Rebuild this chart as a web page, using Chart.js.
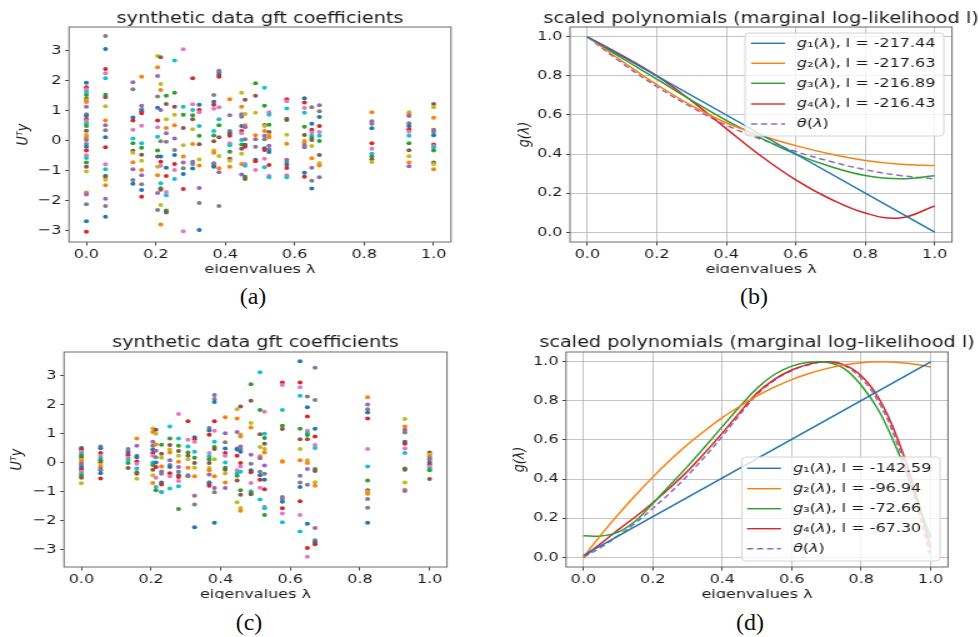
<!DOCTYPE html>
<html>
<head>
<meta charset="utf-8">
<script src="https://cdn.jsdelivr.net/npm/chart.js@4.4.0/dist/chart.umd.min.js"></script>
<style>
body { margin: 0; background: #fff; width: 979px; height: 637px; position: relative; overflow: hidden; }
.panel { position: absolute; overflow: hidden; }
.panel canvas { display: block; transform: scaleX(1.25); transform-origin: 0 0; }
.cap { position: absolute; font-family: "Liberation Serif", serif; font-size: 24px; line-height: 24px; color: #111; transform: translateX(-50%); }
</style>
</head>
<body>
<div class="panel" style="left:0px;top:0px;width:470px;height:273px"><canvas id="chartA" width="376" height="282"></canvas></div>
<div class="panel" style="left:490px;top:0px;width:489px;height:273px"><canvas id="chartB" width="391" height="282"></canvas></div>
<div class="panel" style="left:0px;top:320px;width:470px;height:279px"><canvas id="chartC" width="376" height="284"></canvas></div>
<div class="panel" style="left:490px;top:320px;width:489px;height:278px"><canvas id="chartD" width="391" height="284"></canvas></div>
<div class="cap" style="left:253px;top:284px">(a)</div>
<div class="cap" style="left:754px;top:284px">(b)</div>
<div class="cap" style="left:249px;top:610px">(c)</div>
<div class="cap" style="left:750px;top:610px">(d)</div>
<script>
// eigenvalues (x positions of the gft columns)
const eig = [0.0, 0.055, 0.134, 0.159, 0.205, 0.214, 0.23, 0.254, 0.279, 0.306, 0.325, 0.367, 0.382,
             0.413, 0.447, 0.457, 0.487, 0.513, 0.526, 0.577, 0.628, 0.649, 0.671, 0.822, 0.929, 1.0];

// gft coefficients, panel (a), one list per eigenvalue
const gftA = [
  [1.94,1.79,1.72,1.63,1.53,1.41,1.36,1.3,1.14,0.89,0.83,0.72,0.67,0.59,0.5,0.34,0.21,0.12,0.03,-0.1,-0.19,-0.32,-0.48,-0.57,-0.72,-0.86,-1.02,-1.72,-1.79,-2.11,-2.68,-3.03],
  [3.5,3.07,2.4,2.26,2.09,1.54,1.46,1.16,0.68,0.52,0.36,0.12,-0.21,-0.78,-0.94,-1.16,-1.2,-1.29,-1.48,-1.93,-2.17,-2.53],
  [1.96,1.72,0.78,0.68,0.37,0.08,-0.08,-0.33,-0.39,-0.71,-0.94,-1.3,-1.43],
  [2.14,1.17,1.06,0.99,0.92,0.51,-0.08,-0.23,-0.46,-0.66,-0.97,-1.14,-1.44,-1.64,-1.86],
  [2.83,2.46,2.17,1.48,1.11,0.68,0.46,0.14,-0.32,-0.52,-0.86,-1.14,-1.74,-2.3],
  [2.79,1.9,1.7,1.03,-0.01,-0.52,-0.69,-0.83,-1.41,-1.58,-1.63,-2.14,-2.79],
  [1.51,1.23,0.72,0.43,0.26,-0.03,-0.89,-1.17,-1.7,-1.81,-2.32,-2.39],
  [2.68,1.61,1.14,0.87,0.52,0.08,-0.3,-0.47,-0.77,-0.97,-1.27],
  [3.06,1.14,0.87,0.43,-0.14,-0.52,-0.72,-0.91,-1.1,-1.6,-3.01],
  [2.09,1.22,1.03,0.86,0.72,0.39,-0.1,-0.69,-0.77,-0.92],
  [1.21,1.03,0.96,0.5,0.17,-0.11,-0.62,-0.82,-1.57,-2.07,-2.97],
  [1.53,1.31,1.21,1.07,0.33,0.18,-0.01,-0.32,-0.39,-0.74,-0.81,-0.86],
  [2.34,2.28,2.21,2.14,1.12,0.72,0.52,0.12,-0.5,-0.91,-1.04,-2.17],
  [1.39,0.86,0.33,0.26,0.17,-0.08,-0.14,-0.36,-0.59,-0.66,-0.86],
  [1.61,1.14,0.89,0.81,0.5,0.33,0.26,0.03,-0.12,-0.26,-0.43,-0.77,-1.12],
  [1.37,0.9,0.52,0.46,0.06,-0.13,-0.19,-0.77,-0.83,-1.19,-1.27],
  [1.92,1.51,0.94,0.19,0.06,-0.19,-0.63,-0.68,-0.97],
  [1.77,1.17,0.53,0.5,0.33,0.17,0.06,-0.24,-0.3,-0.59,-0.88],
  [0.96,0.87,0.54,0.3,0.2,0.12,-0.16,-0.28,-0.37,-0.8,-1.17,-1.21],
  [1.39,1.32,1.08,0.74,0.7,0.21,-0.09,-0.63,-0.7,-0.79,-0.9,-1.14,-1.21],
  [1.42,1.28,1.1,0.94,0.47,0.2,0.01,-0.06,-0.14,-0.21,-1.06,-1.19],
  [1.12,0.57,0.37,0.28,0.17,0.1,0.03,-0.17,-0.58,-0.89,-1.33,-1.59],
  [1.19,0.99,0.8,0.5,0.3,0.17,0,-0.47,-0.74,-0.82,-1.21],
  [0.96,0.66,0.57,0.42,-0.08,-0.26,-0.43,-0.52,-0.61,-0.7],
  [0.96,0.88,0.83,0.59,0.5,0.39,0.31,0.17,-0.08,-0.31,-0.51,-0.72,-0.84],
  [1.23,1.12,0.77,0.37,0.3,0.19,-0.12,-0.17,-0.21,-0.32,-0.72,-0.77,-0.94]
];

// gft coefficients, panel (c)
const gftC = [
  [0.5,0.44,0.37,0.3,0.23,0.16,0.09,0.02,-0.05,-0.11,-0.18,-0.25,-0.32,-0.39,-0.46,-0.53,-0.72],
  [0.55,0.49,0.32,0.23,0.15,0.07,0,-0.08,-0.16,-0.22,-0.27,-0.37,-0.55],
  [0.46,0.39,0.32,0.25,0.16,0.09,-0.02,-0.19],
  [0.82,0.57,0.23,0.18,0.03,-0.05,-0.21,-0.34,-0.39,-0.56],
  [1.17,1.05,0.71,0.57,0.44,0.32,0.23,0,-0.09,-0.25,-0.44,-0.71],
  [1.12,0.99,0.62,0.4,0.18,0,-0.16,-0.53,-0.85,-0.96],
  [0.61,0.3,0.16,-0.14,-0.31,-0.39,-0.69,-0.76,-1.01,-1.03],
  [1.24,0.82,0.6,0.44,0.34,0.07,-0.09,-0.16,-0.37,-0.48,-0.9],
  [1.67,0.82,0.57,0.39,0.23,0.02,-0.16,-0.32,-0.44,-0.5,-0.64,-0.82,-1.6],
  [1.42,0.78,0.55,0.34,0.23,0.11,-0.18,-0.44,-0.48],
  [0.87,0.8,0.71,0.37,0.16,-0.02,-0.18,-0.48,-1.15,-1.45,-2.23],
  [1.18,1.1,0.95,0.32,0.21,0.11,-0.02,-0.19,-0.27,-0.42,-0.68,-0.73,-0.8],
  [2.32,2.18,2.08,1.42,1.09,0.71,0.53,0.46,0.11,-0.48,-0.88,-1.03,-2.08],
  [1.55,1.0,0.69,0.48,0.32,0.23,0,-0.18,-0.25,-0.38,-0.69,-0.88],
  [1.83,1.51,1.05,0.48,0.44,0.23,-0.27,-0.37,-0.46,-0.62,-1.37],
  [1.92,0.96,0.89,0.55,0.46,0.37,-0.02,-0.14,-0.32,-0.96,-1.11,-1.57,-1.66],
  [2.69,2.12,1.36,1.2,0.26,-0.05,-0.27,-0.34,-0.71,-0.99,-1.05,-1.1],
  [3.1,1.8,0.97,0.53,0.21,0.14,-0.32,-0.44,-0.6,-0.87,-1.28],
  [1.74,0.99,0.84,0.64,0.46,0.34,-0.11,-0.39,-0.6,-0.92,-1.53,-1.58,-1.81],
  [2.75,2.66,1.8,1.26,1.15,0.05,0.02,-1.19,-1.26,-1.35,-1.58,-1.76,-2.06],
  [3.48,2.75,2.59,2.29,1.16,0.8,0.46,0.07,-0.46,-0.69,-0.85,-1.34,-1.81,-2.38],
  [2.27,1.9,1.58,1.09,1.01,0.94,0.8,0.07,-0.02,-0.23,-0.77,-2.11,-2.95,-3.25],
  [3.26,2.15,1.16,0.89,0.6,0.5,-0.23,-0.3,-0.68,-0.8,-2.26,-2.68,-2.75,-2.82],
  [2.24,1.99,1.83,1.72,1.51,0.46,-0.14,-0.62,-0.96,-1.01,-1.08,-1.26,-1.56,-2.08],
  [1.49,1.24,1.12,1.03,0.71,0.64,0.48,0.32,-0.21,-0.25,-0.69,-0.94,-0.98],
  [0.34,0.27,0.21,0.14,0.09,0,-0.07,-0.14,-0.21,-0.27,-0.57]
];

// polynomials, panel (b)
const lamB = [0, 0.1, 0.2, 0.3, 0.4, 0.5, 0.6, 0.7, 0.8, 0.9, 1.0];
const g1Bx = [0, 1], g1By = [1.0, 0.0];
const g2B = [1.0, 0.875, 0.755, 0.648, 0.56, 0.495, 0.443, 0.40, 0.367, 0.348, 0.341];
const g3B = [1.0, 0.89, 0.783, 0.675, 0.572, 0.482, 0.40, 0.336, 0.29, 0.273, 0.289];
const g4B = [1.0, 0.905, 0.80, 0.672, 0.53, 0.39, 0.268, 0.17, 0.098, 0.073, 0.134];
const thB = [1.0, 0.865, 0.745, 0.64, 0.548, 0.476, 0.413, 0.362, 0.32, 0.29, 0.273];
const llB = ['-217.44', '-217.63', '-216.89', '-216.43'];

// polynomials, panel (d)
const lamD = [0, 0.05, 0.1, 0.15, 0.2, 0.25, 0.3, 0.35, 0.4, 0.45, 0.5, 0.55, 0.6, 0.65, 0.7, 0.75, 0.8, 0.85, 0.9, 0.95, 1.0];
const g1Dx = [0, 1], g1Dy = [0.01, 1.0];
const g2D = [0.0, 0.113, 0.218, 0.317, 0.41, 0.497, 0.577, 0.648, 0.714, 0.772, 0.825, 0.87, 0.909, 0.94, 0.965, 0.984, 0.995, 1.0, 0.998, 0.989, 0.973];
const g3D = [0.11, 0.108, 0.128, 0.185, 0.275, 0.37, 0.465, 0.565, 0.668, 0.77, 0.865, 0.935, 0.978, 0.997, 0.998, 0.966, 0.88, 0.752, 0.565, 0.34, 0.10];
const g4D = [0.0, 0.07, 0.14, 0.207, 0.279, 0.357, 0.44, 0.535, 0.635, 0.74, 0.84, 0.91, 0.958, 0.988, 1.0, 0.985, 0.928, 0.815, 0.628, 0.37, 0.046];
const thD = [0.0, 0.05, 0.11, 0.175, 0.25, 0.33, 0.418, 0.515, 0.618, 0.728, 0.832, 0.905, 0.955, 0.985, 1.0, 0.982, 0.915, 0.795, 0.6, 0.33, 0.0];
const llD = ['-142.59', '-96.94', '-72.66', '-67.30'];

const xTicks = [0, 0.2, 0.4, 0.6, 0.8, 1.0];
const yTicksGft = [-3, -2, -1, 0, 1, 2, 3];
const yTicksPoly = [0, 0.2, 0.4, 0.6, 0.8, 1.0];

const tab10 = ['#1f77b4','#ff7f0e','#2ca02c','#d62728','#9467bd','#8c564b','#e377c2','#7f7f7f','#bcbd22','#17becf'];
const ink = '#1a1a1a';
const tickFont = { family: 'DejaVu Sans', size: 12.8 };
const minus = s => s.replace('-', '\u2212');

function pts(xs, ys) { return xs.map((x, i) => ({ x: x, y: ys[i] })); }

function richText(ctx, x, y, parts) {
  parts.forEach(p => {
    ctx.font = (p[1] ? 'italic ' : '') + '12.8px "DejaVu Sans"';
    ctx.fillText(p[0], x, y);
    x += ctx.measureText(p[0]).width;
  });
}

// spines, title and optional legend
function framePlugin(title, titleY, legend) {
  return {
    id: 'frame',
    afterDatasetsDraw(chart) {
      if (!legend) return;
      const ctx = chart.ctx;
      ctx.save();
      ctx.beginPath();
      ctx.roundRect(legend.x, legend.y, legend.w, legend.h, 3);
      ctx.fillStyle = 'rgba(255,255,255,0.8)';
      ctx.fill();
      ctx.strokeStyle = '#d4d4d4';
      ctx.lineWidth = 1;
      ctx.stroke();
      ctx.textBaseline = 'middle';
      ctx.fillStyle = ink;
      legend.rows.forEach((r, i) => {
        const y = legend.rowY[i];
        ctx.strokeStyle = r.color;
        ctx.lineWidth = 1.4;
        ctx.setLineDash(r.dash || []);
        ctx.beginPath();
        ctx.moveTo(legend.hx0, y);
        ctx.lineTo(legend.hx1, y);
        ctx.stroke();
        ctx.setLineDash([]);
        richText(ctx, legend.tx, y, r.parts);
      });
      ctx.restore();
    },
    afterDraw(chart) {
      const ctx = chart.ctx, a = chart.chartArea;
      ctx.save();
      ctx.strokeStyle = '#6a6a6a';
      ctx.lineWidth = 1;
      ctx.strokeRect(a.left, a.top, a.right - a.left, a.bottom - a.top);
      ctx.font = '15.4px "DejaVu Sans"';
      ctx.fillStyle = ink;
      ctx.textAlign = 'center';
      ctx.textBaseline = 'alphabetic';
      ctx.fillText(title, (a.left + a.right) / 2, titleY);
      ctx.restore();
    }
  };
}

function scales(o) {
  return {
    x: {
      type: 'linear', min: -0.05, max: 1.05,
      afterBuildTicks: s => { s.ticks = xTicks.map(v => ({ value: v })); },
      afterFit: s => { s.height = o.xh; },
      ticks: { callback: v => v.toFixed(1), color: ink, font: tickFont, padding: 1, maxRotation: 0, autoSkip: false },
      grid: { display: true, drawOnChartArea: o.grid, color: 'rgba(176,176,176,0.75)', lineWidth: 1, tickColor: '#444', tickLength: 3.5 },
      border: { display: false },
      title: { display: true, text: 'eigenvalues λ', color: ink, font: tickFont, padding: { top: 0, bottom: o.xtp } }
    },
    y: {
      type: 'linear', min: o.ymin, max: o.ymax,
      afterBuildTicks: s => { s.ticks = o.yticks.map(v => ({ value: v })); },
      afterFit: s => { s.width = o.yw; },
      ticks: { callback: o.yfmt, color: ink, font: tickFont, padding: 3, autoSkip: false },
      grid: { display: true, drawOnChartArea: o.grid, color: 'rgba(176,176,176,0.75)', lineWidth: 1, tickColor: '#444', tickLength: 3 },
      border: { display: false },
      title: { display: true, text: o.ylabel, color: ink, font: { family: 'DejaVu Sans', size: 12.8, style: 'italic' }, padding: { top: o.ytp, bottom: 0 } }
    }
  };
}

function gftChart(id, cols, o) {
  const data = [], colors = [];
  cols.forEach((col, i) => {
    col.forEach((v, j) => {
      data.push({ x: eig[i], y: v });
      colors.push(tab10[(j * 3 + i * 7) % 10]);
    });
  });
  new Chart(document.getElementById(id), {
    type: 'scatter',
    data: { datasets: [{ data: data, pointBackgroundColor: colors, pointBorderWidth: 0, pointRadius: 2 }] },
    options: {
      responsive: false, animation: false, events: [],
      layout: { padding: { top: o.pt, right: o.pr, left: 0, bottom: 0 } },
      plugins: { legend: { display: false }, tooltip: { enabled: false } },
      scales: scales(Object.assign({ grid: false, ymin: o.ymin, ymax: o.ymax, yticks: yTicksGft,
        yfmt: v => minus(String(v)), ylabel: 'U\u1D40y' }, o))
    },
    plugins: [framePlugin('synthetic data gft coefficients', o.titleY)]
  });
}

function polyChart(id, series, labels, o) {
  const cols = ['#1f77b4', '#ff7f0e', '#2ca02c', '#d62728', '#9467bd'];
  const ds = series.map((s, i) => ({
    data: s, borderColor: cols[i], borderWidth: 1.5, pointRadius: 0, fill: false,
    tension: 0.4, borderDash: i === 4 ? [5, 3] : []
  }));
  const rows = labels.map((l, i) => ({
    color: cols[i], parts: [['g', 1], ['\u2081\u2082\u2083\u2084'[i] + '(', 0], ['λ', 1], ['), l = ' + l, 0]]
  }));
  rows.push({ color: cols[4], dash: [5, 3], parts: [['θ', 1], ['(', 0], ['λ', 1], [')', 0]] });
  o.legend.rows = rows;
  new Chart(document.getElementById(id), {
    type: 'line',
    data: { datasets: ds },
    options: {
      responsive: false, animation: false, events: [],
      layout: { padding: { top: o.pt, right: o.pr, left: 0, bottom: 0 } },
      plugins: { legend: { display: false }, tooltip: { enabled: false } },
      scales: scales(Object.assign({ grid: true, ymin: -0.05, ymax: 1.05, yticks: yTicksPoly,
        yfmt: v => v.toFixed(1), ylabel: 'g(λ)' }, o))
    },
    plugins: [framePlugin('scaled polynomials (marginal log-likelihood l)', o.titleY, o.legend)]
  });
}

gftChart('chartA', gftA, { pt: 27, pr: 15.2, yw: 55.2, xh: 40, xtp: 5, ytp: 11, ymin: -3.37, ymax: 3.8, titleY: 23 });
gftChart('chartC', gftC, { pt: 32, pr: 18.4, yw: 51.2, xh: 37, xtp: 1.6, ytp: 6.3, ymin: -3.6, ymax: 3.8, titleY: 27 });

polyChart('chartB',
  [pts(g1Bx, g1By), pts(lamB, g2B), pts(lamB, g3B), pts(lamB, g4B), pts(lamB, thB)], llB,
  { pt: 27, pr: 21.4, yw: 64, xh: 40, xtp: 5, ytp: 19.5, titleY: 23,
    legend: { x: 204, y: 33, w: 159, h: 103, hx0: 208.8, hx1: 236, tx: 245.6, rowY: [43.3, 63.3, 83.3, 104, 124] } });

polyChart('chartD',
  [pts(g1Dx, g1Dy), pts(lamD, g2D), pts(lamD, g3D), pts(lamD, g4D), pts(lamD, thD)], llD,
  { pt: 32, pr: 24.6, yw: 60.8, xh: 37, xtp: 1.6, ytp: 15.5, titleY: 27,
    legend: { x: 201.6, y: 137, w: 158.4, h: 104, hx0: 205.6, hx1: 232.8, tx: 242.4, rowY: [148.3, 168.7, 188.7, 208.7, 228.7] } });
</script>
</body>
</html>
